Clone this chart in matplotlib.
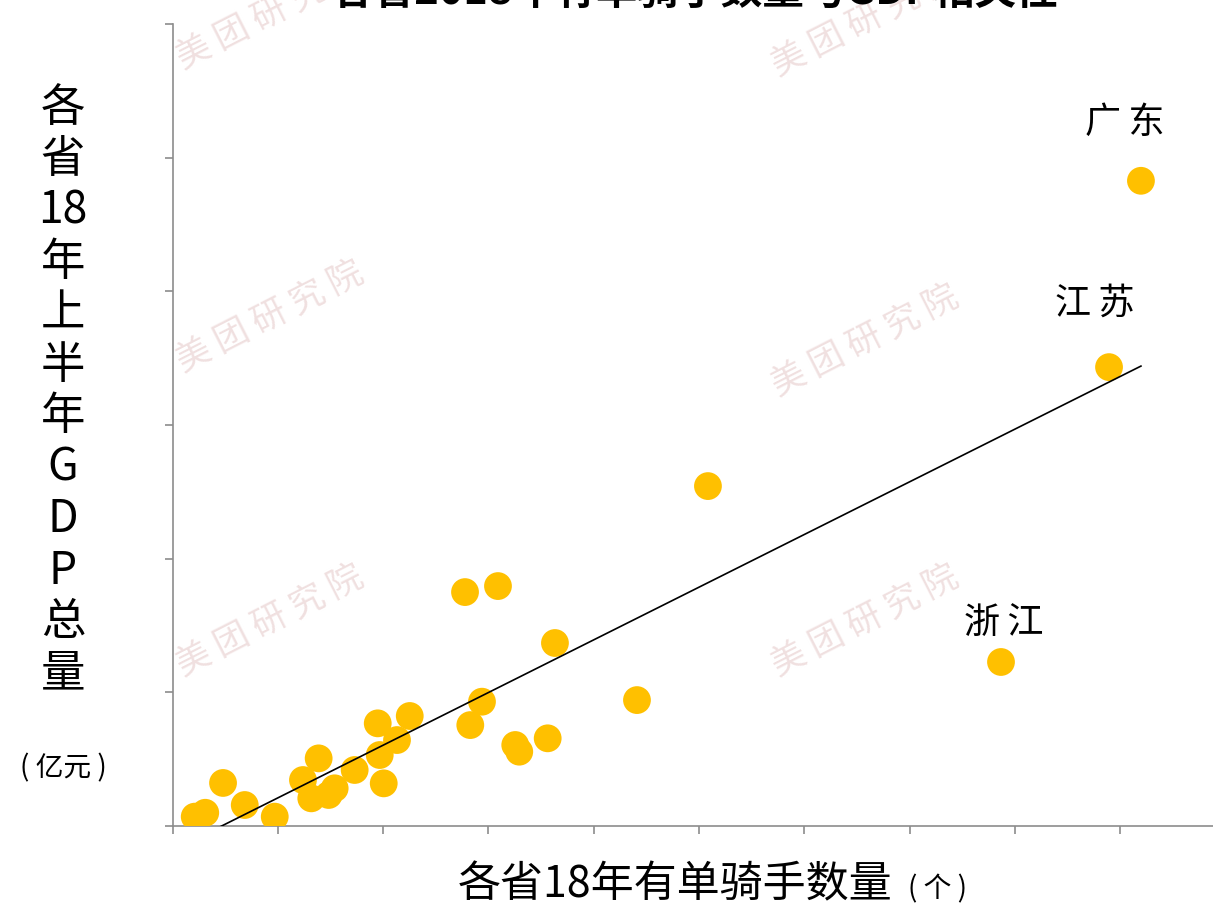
import numpy as np
import matplotlib
matplotlib.use('Agg')
import matplotlib.pyplot as plt

plt.rcParams['font.family'] = ['Noto Sans CJK SC', 'DejaVu Sans']
plt.rcParams['axes.unicode_minus'] = False

# 各省有单骑手数量（个）与上半年GDP（亿元），按图读数估计
riders = [2110, 3110, 4800, 6860, 9710, 12390, 13180, 13880, 14830, 15400,
          17300, 19490, 19680, 20060, 21320, 22530, 27780, 28280, 29390, 30910,
          32550, 32930, 35630, 36320, 44110, 50850, 78680, 88940, 91970]
gdp = [700, 990, 3220, 1570, 700, 3440, 2070, 5060, 2320, 2820,
       4190, 7680, 5310, 3190, 6430, 8230, 17500, 7550, 9300, 17950,
       6060, 5560, 6560, 13690, 9420, 25430, 12270, 34330, 48270]

label_names = ['广东', '江苏', '浙江']
label_idx = [28, 27, 26]

x_ticks = np.arange(0, 100001, 10000)
y_ticks = np.arange(0, 60001, 10000)

fig = plt.figure(figsize=(12.13, 9.07), dpi=100)
ax = fig.add_axes([172.5 / 1213, 81 / 907, 1053 / 1213, 802 / 907])

ax.scatter(riders, gdp, s=400, color='#FFC000', edgecolors='none', zorder=3)

# 线性趋势线
k, b = np.polyfit(riders, gdp, 1)
xs = np.array([min(riders), max(riders)])
ax.plot(xs, k * xs + b, color='black', lw=1.2, zorder=4)

offsets = {'广东': (-12, 42), '江苏': (-10, 46), '浙江': (2, 28)}
for name, i in zip(label_names, label_idx):
    ax.annotate('\u2009'.join(name), (riders[i], gdp[i]), xytext=offsets[name],
                textcoords='offset points', ha='center', va='center',
                fontsize=26, zorder=5)

ax.set_xlim(0, 100000)
ax.set_ylim(0, 60000)
ax.set_xticks(x_ticks)
ax.set_yticks(y_ticks)
ax.set_xticklabels([])
ax.set_yticklabels([])
ax.tick_params(direction='out', length=6, width=1.2, color='#8c8c8c')
for side in ['top', 'right']:
    ax.spines[side].set_visible(False)
for side in ['left', 'bottom']:
    ax.spines[side].set_color('#8c8c8c')
    ax.spines[side].set_linewidth(1.2)
ax.patch.set_alpha(0)

# 水印
wm_pos = [(270, 15), (865, 22), (270, 318), (865, 342), (270, 622), (865, 622)]
for px, py in wm_pos:
    fig.text(px / 1213, 1 - py / 907, '美 团 研 究 院', fontsize=25,
             color='#f0e0e0', rotation=27, ha='center', va='center',
             rotation_mode='anchor', zorder=0)

# 标题（被裁掉大半）
fig.text(695 / 1213, 1 - 4 / 907, '各省2018年有单骑手数量与GDP相关性',
         fontsize=30, fontweight='bold', ha='center', va='baseline')

# 纵轴标题，逐字竖排
ylab = ['各', '省', '18', '年', '上', '半', '年', 'G', 'D', 'P', '总', '量']
for j, ch in enumerate(ylab):
    fig.text(63 / 1213, 1 - (108 + j * 51.4) / 907, ch, fontsize=32,
             ha='center', va='center')
fig.text(63 / 1213, 1 - 768 / 907, '( 亿元 )', fontsize=20,
         ha='center', va='center')

fig.text(675 / 1213, 1 - 885 / 907, '各省18年有单骑手数量', fontsize=31,
         ha='center', va='center')
fig.text(937 / 1213, 1 - 889 / 907, '( 个 )', fontsize=20,
         ha='center', va='center')

fig.savefig('out.png', dpi=100)
